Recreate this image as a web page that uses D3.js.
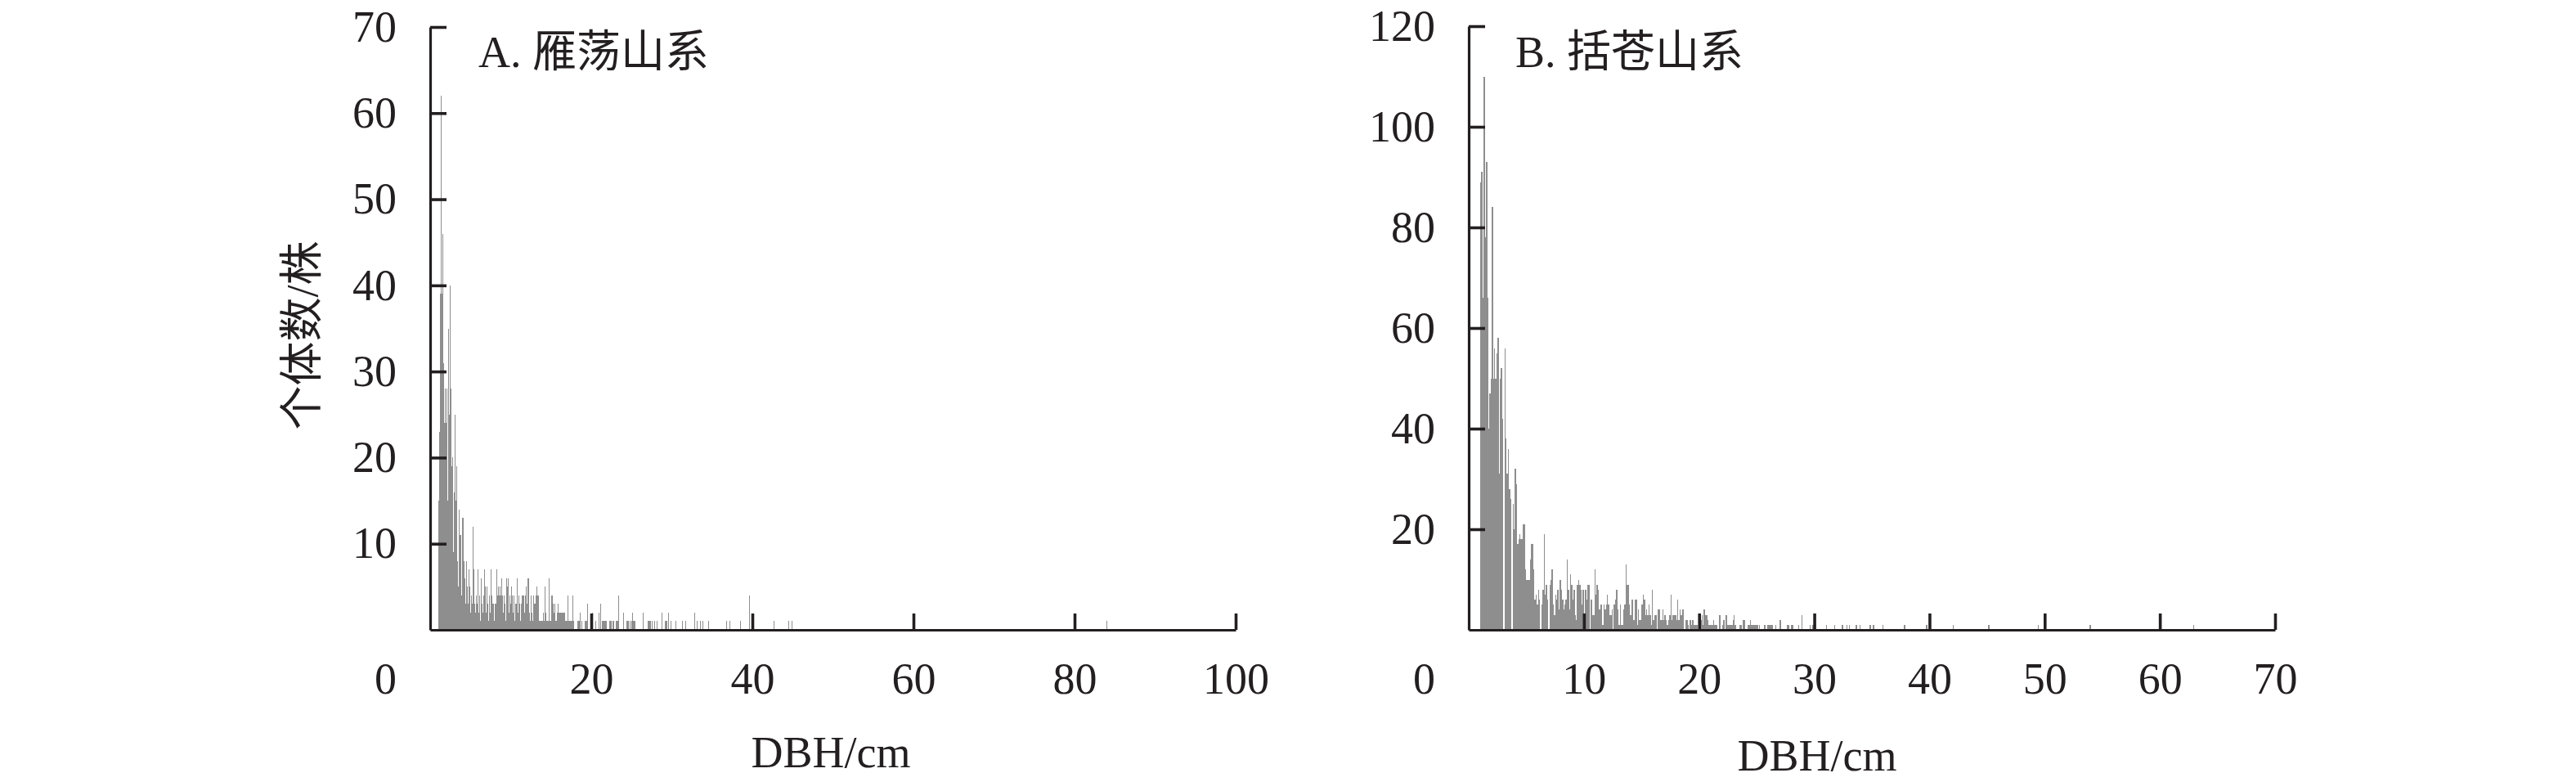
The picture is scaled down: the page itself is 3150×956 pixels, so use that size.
<!DOCTYPE html>
<html><head><meta charset="utf-8">
<script src="https://cdn.jsdelivr.net/npm/d3@7"></script>
<style>
html,body{margin:0;padding:0;background:#fff;overflow:hidden;}
text{fill:#231f20;}
</style></head><body>
<svg id="chart" width="3150" height="956"></svg>
<script>
// ---- data: number of trees per 0.1 cm DBH class ----
const classStart = 1.0;   // first DBH class (cm)
const classWidth = 0.1;   // class width (cm)

// A. 雁荡山系 — counts for DBH classes 1.0 … 19.9 cm
const countsA = [
  15,23,39,62,39,46,31,24,28,24,
  28,15,35,25,40,28,19,20,9,16,
  25,15,19,8,8,5,14,11,11,4,
  13,13,8,6,3,8,5,3,7,5,
  2,4,3,12,7,3,2,4,3,7,
  2,4,1,6,3,2,4,7,5,2,
  5,3,1,4,2,7,4,3,3,1,
  3,3,7,4,5,4,5,4,6,4,
  2,4,3,1,6,5,6,2,4,3,
  1,5,4,2,4,1,3,3,6,2,
  4,3,1,3,4,
  4,4,2,4,5,3,6,6,2,1,
  4,2,1,4,3,3,4,5,4,4,
  1,1,1,1,1,2,1,5,2,1,
  1,1,6,1,1,4,4,3,2,3,
  1,1,2,3,2,2,2,2,2,2,
  2,2,1,1,1,1,4,1,1,1,
  1,1,4,1,0,0,0,0,1,1,
  1,2,0,1,0,0,0,1,1,1,
  3,0,0,0,1
];
// A. sparse classes beyond 20 cm: [DBH class, count]
const tailA = [
  [20.1,2],[20.5,1],[20.9,2],[21.1,3],[21.3,1],[21.4,1],[21.5,1],[21.6,1],[21.7,1],[21.8,1],
  [22.2,1],[22.3,1],[22.4,1],[22.6,1],[22.7,1],[23.0,1],[23.1,1],[23.2,1],[23.4,4],[24.0,2],
  [24.4,1],[24.5,1],[24.6,1],[24.8,1],[25.0,1],[25.1,2],[25.2,1],[25.3,1],[25.4,1],[26.4,2],
  [27.0,1],[27.1,1],[27.2,1],[27.3,1],[27.5,1],[27.8,1],[28.1,1],[28.7,2],[29.1,1],[29.2,1],
  [29.3,1],[29.5,2],[29.8,1],[30.5,1],[31.3,1],[31.7,1],[32.8,2],[33.1,1],[33.5,1],[33.8,1],
  [34.5,1],[36.8,1],[37.2,1],[38.5,1],[39.6,4],[42.6,1],[44.5,1],[44.9,1],[84.0,1]
];

// B. 括苍山系 — counts for DBH classes 1.0 … 29.9 cm
const countsB = [
  89,91,66,110,78,93,66,40,47,50,
  84,50,56,50,55,58,31,50,52,42,
  0,56,38,31,36,28,26,0,25,20,
  32,29,17,18,19,18,18,21,21,12,
  10,10,10,14,17,17,12,6,7,5,
  8,6,0,5,8,19,7,9,6,0,
  9,10,12,5,3,7,6,8,4,10,
  8,6,4,5,6,14,8,4,11,9,
  6,8,3,2,9,
  10,9,8,5,8,3,8,6,9,9,
  0,6,3,3,12,7,9,8,4,5,
  5,1,5,4,5,7,5,3,3,4,
  0,5,6,8,4,1,5,1,1,4,
  5,13,9,9,5,3,6,6,2,6,
  6,1,4,2,2,5,7,6,3,4,
  3,5,3,1,8,2,3,3,0,4,
  4,2,2,4,2,3,2,1,2,3,
  7,2,3,3,3,2,6,2,4,3,
  4,4,0,2,2,1,0,2,1,2,
  1,1,1,1,0,3,2,3,1,4,
  3,3,2,1,1,1,1,2,1,1,
  1,0,3,3,0,1,2,0,3,1,
  1,1,1,1,2,3,1,0,0,0,
  1,1,0,2,2,0,0,1,1,2,
  1,1,1,1,1,1,0,1,0,0,
  0,1,1,0,1,1,1,1,1,0,
  0,1,0,0,0,2,0,0,0,0,
  0,1,1,0,0,1,1,0,0,0,
  0,1,0,0,3,0,0,0,0,0,
  0,1,0,1,1
];
const tailB = [
  [31.0,1],[31.7,1],[32.4,1],[32.8,1],[33.0,1],[33.6,1],[33.9,1],[34.8,1],[35.1,1],
  [35.9,1],[37.8,1],[39.7,1],[42.0,1],[45.1,1],[49.4,1],[53.9,1],[62.9,1]
];

// axes
const xTicksA = [20,40,60,80,100];
const yTicksA = [10,20,30,40,50,60,70];
const xTicksB = [10,20,30,40,50,60,70];
const yTicksB = [20,40,60,80,100,120];
const titleA = "A. 雁荡山系";
const titleB = "B. 括苍山系";
const xLabel = "DBH/cm";
const yLabel = "个体数/株";

// ---- drawing ----
const svg = d3.select("#chart");
const FONT = '"Liberation Serif","Times New Roman","Noto Sans CJK SC",serif';
const FS = 54;
const INK = "#231f20";
const BAR = "#8e8e8e";

function toBars(counts, tail){
  const dense = counts.map((n,i)=>({d: +(classStart + i*classWidth).toFixed(1), n}));
  const sparse = tail.map(([d,n])=>({d,n}));
  return dense.concat(sparse).filter(b=>b.n>0);
}

const panels = [
  {left:526, right:1511, top:33, bottom:770, xMax:100, yMax:70,
   xTicks:xTicksA, yTicks:yTicksA, bars:toBars(countsA,tailA),
   title:titleA, titleX:585, xLabelX:1016, xLabelY:938, showYLabel:true},
  {left:1796, right:2782, top:32, bottom:770, xMax:70, yMax:120,
   xTicks:xTicksB, yTicks:yTicksB, bars:toBars(countsB,tailB),
   title:titleB, titleX:1853, xLabelX:2222, xLabelY:942, showYLabel:false}
];

panels.forEach(p=>{
  const x = d3.scaleLinear().domain([0,p.xMax]).range([p.left,p.right]);
  const y = d3.scaleLinear().domain([0,p.yMax]).range([p.bottom,p.top]);
  const g = svg.append("g");

  g.append("g").selectAll("rect").data(p.bars).join("rect")
    .attr("x", b=>Math.round(x(b.d)))
    .attr("width", b=>Math.max(1, Math.round(x(b.d+classWidth)) - Math.round(x(b.d))))
    .attr("y", b=>y(b.n))
    .attr("height", b=>y(0)-y(b.n))
    .attr("fill", BAR)
    .attr("shape-rendering","crispEdges");

  const xa = g.append("g").attr("transform",`translate(0,${p.bottom})`)
    .call(d3.axisBottom(x).tickValues(p.xTicks).tickSize(-20).tickSizeOuter(0).tickPadding(40));
  const ya = g.append("g").attr("transform",`translate(${p.left},0)`)
    .call(d3.axisLeft(y).tickValues(p.yTicks).tickSize(-20).tickSizeOuter(0).tickPadding(41));
  [xa,ya].forEach(a=>{
    a.attr("font-family",FONT).attr("font-size",FS).attr("color",INK);
    a.selectAll("path.domain").attr("stroke-width",3.2);
    a.selectAll(".tick line").attr("stroke-width",3.6);
  });
  // common origin label
  g.append("text").attr("x",p.left-41).attr("y",p.bottom+40).attr("dy","0.71em")
    .attr("text-anchor","end").attr("font-family",FONT).attr("font-size",FS).text("0");

  g.append("text").attr("x",p.titleX).attr("y",82)
    .attr("font-family",FONT).attr("font-size",FS).text(p.title);
  g.append("text").attr("x",p.xLabelX).attr("y",p.xLabelY).attr("text-anchor","middle")
    .attr("font-family",FONT).attr("font-size",FS).text(xLabel);
  if(p.showYLabel){
    g.append("text").attr("transform","translate(369,410) rotate(-90)")
      .attr("text-anchor","middle").attr("dy","0.36em")
      .attr("font-family",FONT).attr("font-size",FS).text(yLabel);
  }
});
</script>
</body></html>
